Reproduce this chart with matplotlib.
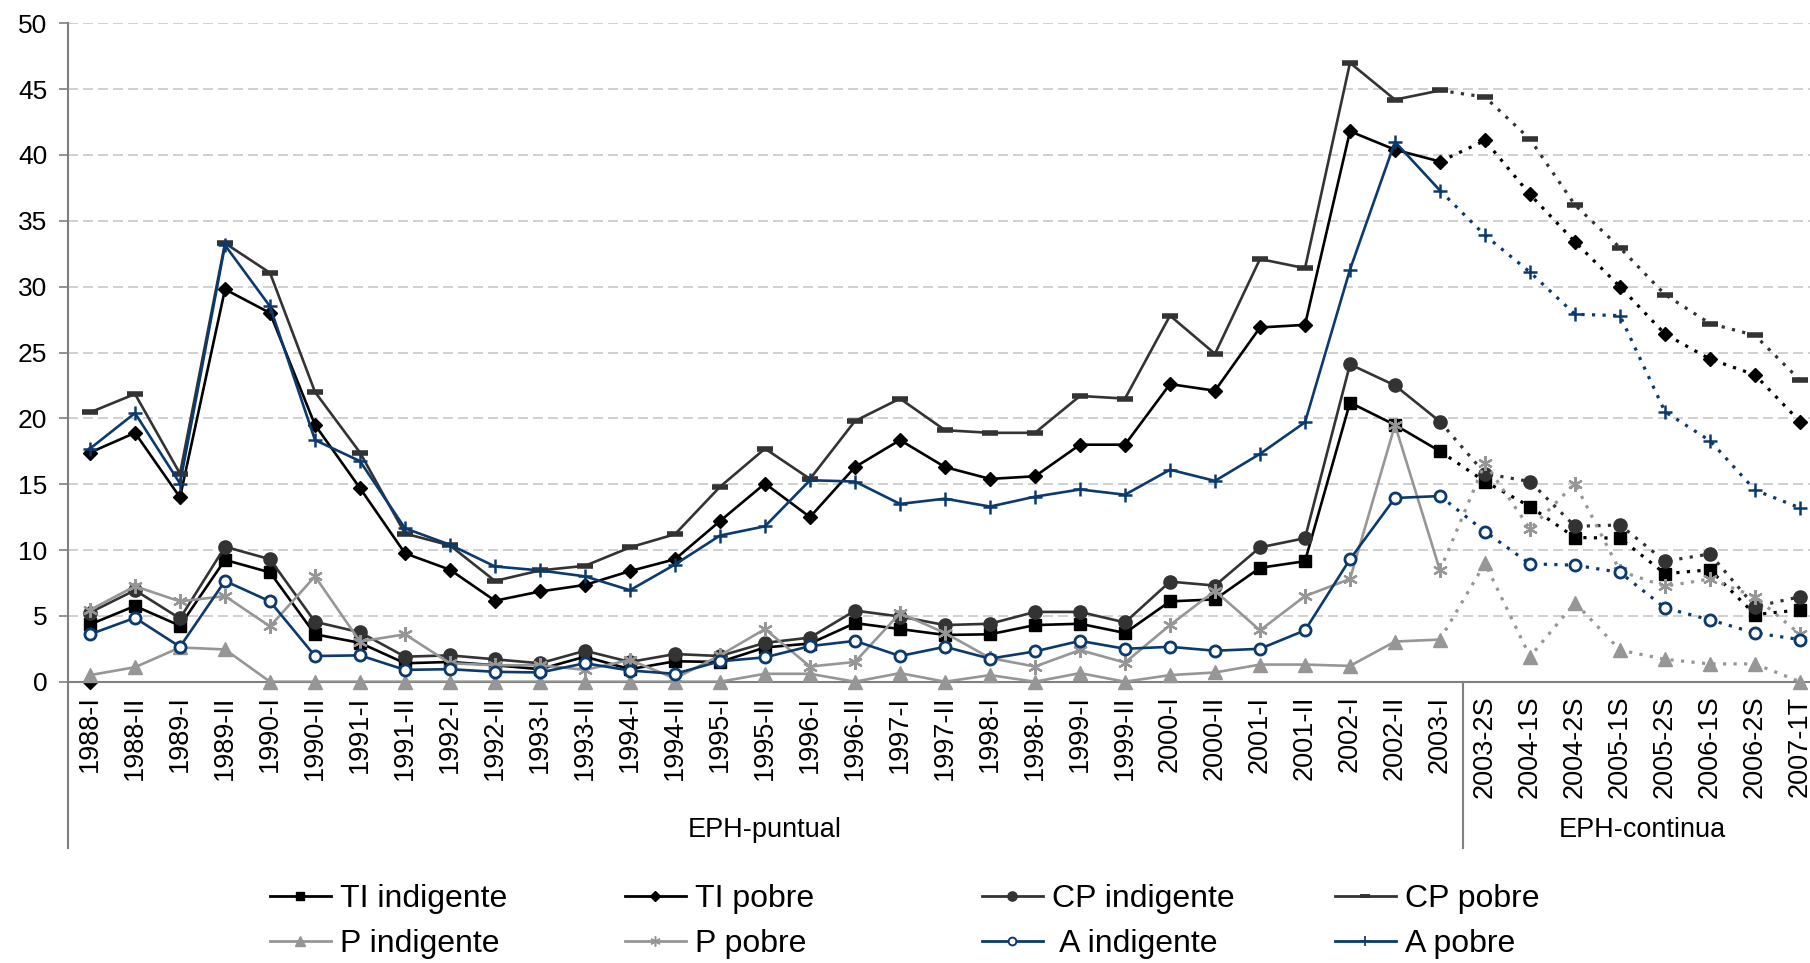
import numpy as np
import matplotlib
matplotlib.use("Agg")
import matplotlib.pyplot as plt
from matplotlib.lines import Line2D

plt.rcParams['font.family'] = ['Liberation Sans', 'DejaVu Sans']

# =====================================
# 1) DATA
# =====================================

categories = ['1988-I', '1988-II', '1989-I', '1989-II', '1990-I', '1990-II',
              '1991-I', '1991-II', '1992-I', '1992-II', '1993-I', '1993-II',
              '1994-I', '1994-II', '1995-I', '1995-II', '1996-I', '1996-II',
              '1997-I', '1997-II', '1998-I', '1998-II', '1999-I', '1999-II',
              '2000-I', '2000-II', '2001-I', '2001-II', '2002-I', '2002-II',
              '2003-I', '2003-2S', '2004-1S', '2004-2S', '2005-1S', '2005-2S',
              '2006-1S', '2006-2S', '2007-1T']

ti_indigente = [4.35, 5.75, 4.25, 9.25, 8.3, 3.6, 2.95, 1.4, 1.5, 1.25, 0.95, 1.9,
                0.95, 1.55, 1.5, 2.6, 2.9, 4.45, 4.0, 3.55, 3.6, 4.3, 4.4, 3.7,
                6.1, 6.25, 8.65, 9.15, 21.2, 19.5, 17.5, 15.2, 13.3, 10.95, 10.9,
                8.2, 8.5, 5.1, 5.45]
ti_pobre = [17.4, 18.9, 14.0, 29.8, 28.0, 19.5, 14.7, 9.75, 8.5, 6.15, 6.85, 7.35,
            8.4, 9.3, 12.2, 15.05, 12.5, 16.3, 18.35, 16.3, 15.4, 15.6, 18.0, 18.0,
            22.6, 22.1, 26.9, 27.1, 41.8, 40.4, 39.5, 41.1, 37.0, 33.4, 30.0,
            26.4, 24.5, 23.3, 19.75]
ti_pobre_extra = [0.0]   # lone diamond sitting on the axis at 1988-I
cp_indigente = [5.25, 6.95, 4.8, 10.25, 9.3, 4.55, 3.75, 1.9, 2.0, 1.7, 1.4, 2.35,
                1.5, 2.1, 1.95, 2.95, 3.35, 5.4, 4.95, 4.3, 4.4, 5.3, 5.3, 4.5,
                7.6, 7.3, 10.2, 10.9, 24.1, 22.5, 19.75, 15.8, 15.2, 11.8, 11.9,
                9.15, 9.7, 5.7, 6.45]
cp_pobre = [20.45, 21.85, 15.8, 33.3, 31.05, 22.0, 17.4, 11.25, 10.35, 7.65, 8.45, 8.8,
            10.2, 11.2, 14.8, 17.7, 15.4, 19.8, 21.5, 19.1, 18.9, 18.9, 21.7, 21.5,
            27.8, 24.9, 32.1, 31.4, 47.0, 44.2, 44.9, 44.4, 41.2, 36.2, 32.95,
            29.4, 27.2, 26.3, 22.9]
p_indigente = [0.5, 1.1, 2.6, 2.45, 0, 0, 0, 0, 0, 0, 0, 0,
               0, 0, 0, 0.6, 0.6, 0, 0.65, 0, 0.5, 0, 0.65, 0,
               0.5, 0.7, 1.3, 1.3, 1.2, 3.05, 3.2, 9.0, 1.9, 6.0, 2.4,
               1.7, 1.35, 1.35, 0]
p_pobre = [5.45, 7.25, 6.1, 6.5, 4.2, 8.0, 3.05, 3.6, 1.4, 1.25, 1.25, 0.9,
           1.65, 0.25, 2.0, 4.0, 1.15, 1.5, 5.2, 3.7, 1.8, 1.15, 2.4, 1.45,
           4.3, 6.9, 3.9, 6.5, 7.8, 19.5, 8.45, 16.6, 11.6, 15.05, 8.4,
           7.25, 7.8, 6.45, 3.6]
a_indigente = [3.6, 4.85, 2.65, 7.65, 6.1, 1.95, 2.0, 0.9, 0.95, 0.75, 0.7, 1.4,
               0.85, 0.6, 1.55, 1.85, 2.7, 3.1, 1.95, 2.65, 1.75, 2.3, 3.1, 2.5,
               2.65, 2.35, 2.5, 3.9, 9.3, 13.95, 14.1, 11.4, 8.95, 8.85, 8.3,
               5.6, 4.7, 3.7, 3.2]
a_pobre = [17.7, 20.4, 15.05, 33.15, 28.5, 18.35, 16.75, 11.65, 10.4, 8.75, 8.45, 8.0,
           6.95, 8.9, 11.1, 11.8, 15.3, 15.2, 13.5, 13.9, 13.3, 14.05, 14.6, 14.2,
           16.1, 15.25, 17.3, 19.7, 31.3, 41.0, 37.3, 33.9, 31.1, 27.9, 27.8,
           20.5, 18.3, 14.55, 13.2]

groups = ['EPH-puntual', 'EPH-continua']
last_puntual = categories.index('2003-I')

# =====================================
# 2) STYLES
# =====================================

BLACK = '#000000'
DARK  = '#333333'
GRAY  = '#969696'
NAVY  = '#0A3A6E'

# label, values, color, marker, markersize, facecolor, edgewidth
series = [
    ('TI indigente', ti_indigente, BLACK, 's',       8.3, BLACK, 1),
    ('TI pobre',     ti_pobre,     BLACK, 'D',       7,   BLACK, 1),
    ('CP indigente', cp_indigente, DARK,  'o',       9.5, DARK,  1),
    ('CP pobre',     cp_pobre,     DARK,  '_',       11,  DARK,  4),
    ('P indigente',  p_indigente,  GRAY,  '^',       10,  GRAY,  1),
    ('P pobre',      p_pobre,      GRAY,  (6, 2, 0), 10.5, GRAY, 1.6),
    (' A indigente', a_indigente,  NAVY,  'o',       8,   'white', 2),
    ('A pobre',      a_pobre,      NAVY,  '+',       10.5, NAVY, 1.8),
]

# =====================================
# 3) PLOT
# =====================================

fig = plt.figure(figsize=(18.10, 9.63), dpi=100)
ax = fig.add_axes([67.5 / 1810, 1 - 681.7 / 963, 39 * 45 / 1810, 658.4 / 963])

x = np.arange(len(categories))
n = last_puntual

handles = []
for k, (label, vals, color, marker, ms, mfc, mew) in enumerate(series):
    vals = np.array(vals)
    z = 3 + k
    ax.plot(x[:n + 1], vals[:n + 1], color=color, lw=1.9, zorder=z)
    ax.plot(x[n:], vals[n:], color=color, lw=2.3, ls=(0, (1.0, 2.3)), zorder=z)
    ax.plot(x, vals, ls='none', marker=marker, ms=ms, mfc=mfc, mec=color,
            mew=mew, zorder=z + 0.5, clip_on=False)
    handles.append(Line2D([], [], color=color, lw=2.0, marker=marker,
                          ms=ms * 0.7, mfc=mfc, mec=color,
                          mew=max(mew * 0.7, 1), label=label))

ax.plot(x[:1], ti_pobre_extra, ls='none', marker='D', ms=7, color=BLACK,
        zorder=4.5, clip_on=False)

# axes
ax.set_xlim(-0.5, len(categories) - 0.5)
ax.set_ylim(0, 50)
yt = np.arange(0, 51, 5)
ax.set_yticks(yt)
ax.set_yticklabels([str(v) for v in yt], fontsize=19)
ax.set_xticks(x)
ax.set_xticklabels(categories, rotation=90, va='top', ha='center', fontsize=19.5)

ax.yaxis.grid(True, color='#C8C8C8', ls=(0, (6, 3)), lw=1.2)
ax.set_axisbelow(True)
for s in ['top', 'right']:
    ax.spines[s].set_visible(False)
for s in ['left', 'bottom']:
    ax.spines[s].set_color('#808080')
    ax.spines[s].set_linewidth(1.5)

ax.tick_params(axis='y', direction='out', length=6.5, width=1.2,
               color='#808080', pad=8)
ax.tick_params(axis='x', length=0, pad=10)

# group separators + group labels under the tick labels
trans = ax.get_xaxis_transform()
for xs in [-0.5, n + 0.5]:
    ax.plot([xs, xs], [0, -0.2526], color='#808080', lw=1.5,
            transform=trans, clip_on=False)
ax.text((-0.5 + n + 0.5) / 2, -0.2252, groups[0], transform=trans,
        ha='center', va='center', fontsize=19.5)
ax.text((n + 0.5 + len(categories) - 0.5) / 2, -0.2252, groups[1], transform=trans,
        ha='center', va='center', fontsize=19.5)

# legend: 4 equal columns, 2 rows
col_x = [270, 625, 982, 1335]
for c in range(4):
    fig.legend(handles=[handles[c], handles[c + 4]], loc='center left',
               bbox_to_anchor=(col_x[c] / 1810, 1 - 921.5 / 963),
               frameon=False, fontsize=23, handlelength=1.9,
               handletextpad=0.3, labelspacing=0.45, borderpad=0,
               borderaxespad=0)

fig.savefig("out.png", dpi=100)
